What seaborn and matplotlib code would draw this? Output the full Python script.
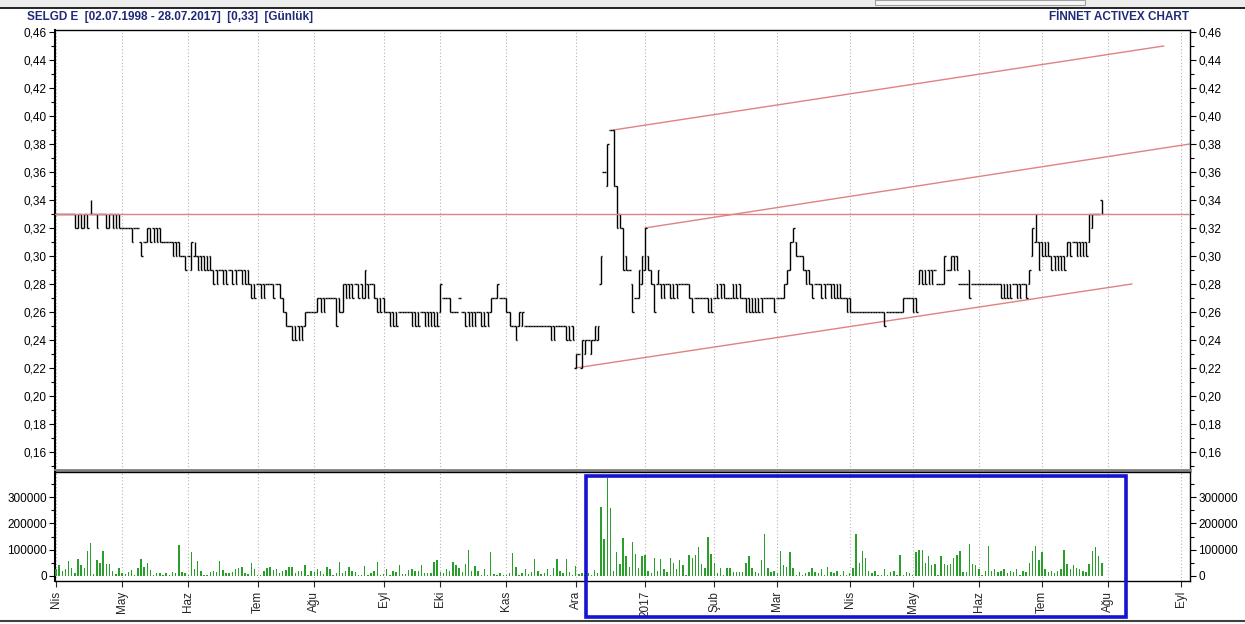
import numpy as np
import pandas as pd
import matplotlib
matplotlib.use("Agg")
import matplotlib.pyplot as plt
import seaborn as sns
from matplotlib.ticker import MultipleLocator, FuncFormatter
from matplotlib.patches import Rectangle

# ---------------- data (prices in kuruş, volume in thousands) ----------------
START, END = "2016-04-01", "2017-07-28"
HOLIDAYS = ["2016-05-19", "2016-07-05", "2016-07-06", "2016-07-07", "2016-08-30",
            "2016-09-12", "2016-09-13", "2016-09-14", "2016-09-15",
            "2017-05-01", "2017-05-19", "2017-06-26", "2017-06-27"]
MONTH_NAMES = ["Oca", "Şub", "Mar", "Nis", "May", "Haz", "Tem", "Ağu", "Eyl", "Eki", "Kas", "Ara"]

LOW = [
    33,33,33,33,33,33,32,32,32,32,32,33,33,32,33,33,32,32,32,32,32,
    32,32,32,31,32,32,30,31,31,31,31,31,31,31,31,31,30,30,30,30,29,
    30,29,30,29,29,29,29,29,28,28,29,28,28,29,28,28,29,28,28,28,27,27,
    28,27,27,28,28,27,28,27,26,25,25,24,24,24,24,25,26,26,
    26,26,26,26,27,27,27,25,26,26,27,27,27,28,27,27,27,27,28,27,26,26,
    26,26,25,25,25,26,26,26,26,25,25,25,26,25,25,25,25,25,
    26,27,27,26,26,26,27,26,25,25,25,25,26,25,25,25,26,27,27,27,27,
    26,25,25,24,25,25,25,25,25,25,25,25,25,25,24,24,25,25,25,24,24,24,
    22,23,22,23,24,23,24,24,28,36,35,39,35,32,32,29,29,29,26,27,27,28,
    29,29,28,26,28,27,27,28,27,27,27,28,28,28,27,26,27,27,27,27,26,26,
    27,27,27,27,27,27,27,27,27,27,26,26,26,26,26,26,27,27,27,26,
    27,27,27,28,29,31,30,30,29,28,28,27,28,28,27,27,28,27,27,27,27,27,26,
    26,26,26,26,26,26,26,26,26,26,26,25,26,26,26,26,26,26,27,27,
    26,26,28,28,28,28,28,29,28,28,28,29,29,29,29,28,28,28,27,28,28,
    28,28,28,28,28,28,28,27,27,27,27,28,27,27,28,27,28,30,31,29,
    30,30,30,29,29,29,29,29,30,30,31,30,30,30,30,31,32,33,33,33,
]
HIGH = [
    33,33,33,33,33,33,33,33,33,33,33,34,33,33,33,33,33,33,33,33,33,
    32,32,32,32,32,32,31,31,32,32,32,32,32,31,31,31,31,31,31,30,30,
    30,31,31,30,30,30,30,30,29,29,29,29,29,29,29,29,29,29,29,29,28,28,
    28,28,28,28,28,28,28,28,27,26,25,25,25,25,25,26,26,26,
    26,27,27,27,27,27,27,27,27,28,28,28,28,28,28,28,29,28,28,28,27,27,
    27,26,26,26,26,26,26,26,26,26,26,26,26,26,26,26,26,26,
    28,27,27,27,26,26,27,26,26,26,26,26,26,26,26,26,27,27,28,27,27,
    27,26,25,25,26,26,25,25,25,25,25,25,25,25,25,25,25,25,25,25,25,25,
    23,23,24,24,24,24,25,25,30,36,38,39,39,35,33,32,30,29,28,27,29,30,
    32,30,29,28,29,28,28,28,28,28,28,28,28,28,28,27,27,27,27,27,27,27,
    27,28,28,28,27,27,28,28,28,27,27,27,27,27,27,27,27,27,27,27,
    27,27,28,29,31,32,31,30,30,29,29,28,28,28,28,28,28,28,28,28,28,27,27,
    27,26,26,26,26,26,26,26,26,26,26,26,26,26,26,26,26,27,27,27,
    27,27,29,29,29,29,29,29,28,28,30,29,30,30,30,28,28,28,29,28,28,
    28,28,28,28,28,28,28,28,28,28,28,28,28,28,28,28,29,32,33,31,
    31,31,31,30,30,30,30,30,31,31,31,31,31,31,31,33,33,33,33,34,
]
OPEN = [
    33,33,33,33,33,33,33,32,33,32,33,33,33,33,33,33,33,32,33,33,33,
    32,32,32,32,32,32,31,31,31,32,32,32,32,31,31,31,31,31,31,30,30,
    30,29,30,30,30,30,30,30,29,29,29,29,29,29,29,29,29,29,29,29,28,28,
    28,28,28,28,28,28,28,28,27,26,25,25,25,25,25,25,26,26,
    26,26,27,27,27,27,27,27,27,26,28,28,28,28,28,28,27,28,28,28,27,27,
    27,26,26,26,26,26,26,26,26,26,26,26,26,26,26,26,26,26,
    26,27,27,27,26,26,27,26,26,26,26,26,26,26,26,26,26,27,27,27,27,
    27,26,25,25,25,25,25,25,25,25,25,25,25,25,25,25,25,25,25,25,25,25,
    22,23,22,23,24,23,24,24,28,36,35,39,39,35,33,32,30,29,28,27,27,28,
    29,30,29,28,28,28,28,28,28,28,28,28,28,28,28,27,27,27,27,27,27,27,
    27,28,28,28,27,27,28,28,28,27,27,27,27,27,27,27,27,27,27,27,
    27,27,27,28,29,31,31,30,30,29,29,28,28,28,28,28,28,28,28,28,28,27,27,
    27,26,26,26,26,26,26,26,26,26,26,26,26,26,26,26,26,26,27,27,
    27,27,28,29,29,29,29,29,28,28,28,29,29,30,30,28,28,28,29,28,28,
    28,28,28,28,28,28,28,28,28,28,28,28,28,28,28,28,28,30,31,31,
    31,31,31,30,30,30,30,30,30,31,31,31,31,31,31,31,32,33,33,34,
]
CLOSE = [
    33,33,33,33,33,33,32,33,32,33,32,33,33,32,33,33,32,33,32,32,32,
    32,32,32,31,32,32,30,31,32,31,31,31,31,31,31,31,30,30,30,30,29,
    30,31,30,29,29,29,29,29,28,28,29,28,28,29,28,28,29,28,28,28,27,27,
    28,27,27,28,28,27,28,27,26,25,25,24,24,24,24,26,26,26,
    26,27,26,26,27,27,27,25,26,28,27,27,27,28,27,27,29,27,28,27,26,26,
    26,26,25,25,25,26,26,26,26,25,25,25,26,25,25,25,25,25,
    28,27,27,26,26,26,27,26,25,25,25,25,26,25,25,25,27,27,28,27,27,
    26,25,25,24,26,26,25,25,25,25,25,25,25,25,24,24,25,25,25,24,24,24,
    23,23,24,24,24,24,25,25,30,36,38,39,35,32,32,29,29,29,26,27,29,30,
    32,29,28,26,29,27,27,28,27,27,27,28,28,28,27,26,27,27,27,27,26,26,
    27,27,27,27,27,27,27,27,27,27,26,26,26,26,26,26,27,27,27,26,
    27,27,28,29,31,32,30,30,29,28,28,27,28,28,27,27,28,27,27,27,27,27,26,
    26,26,26,26,26,26,26,26,26,26,26,25,26,26,26,26,26,27,27,27,
    26,26,29,28,28,28,28,29,28,28,30,29,30,29,29,28,28,28,27,28,28,
    28,28,28,28,28,28,28,27,27,27,27,28,27,27,28,27,29,32,33,29,
    30,30,30,29,29,29,29,29,31,30,31,30,30,30,30,33,33,33,33,33,
]
VOLUME_K = [
    28,41,19,26,56,29,10,64,41,32,95,126,6,60,49,95,47,45,18,6,29,
    10,8,14,22,4,32,64,36,48,22,3,10,10,4,12,4,14,12,118,14,10,
    5,90,25,56,18,3,3,14,17,15,56,22,12,12,14,28,30,36,10,6,48,28,
    5,3,18,30,36,24,27,12,18,24,36,36,10,20,18,40,5,20,
    15,25,20,8,33,25,5,10,55,12,20,33,20,15,5,5,38,5,10,20,55,3,
    7,28,5,20,15,42,8,8,22,28,20,17,40,12,10,10,55,60,
    15,10,25,20,55,40,30,15,45,98,20,37,20,5,25,3,90,8,5,10,3,
    3,10,87,35,5,12,25,8,15,65,20,8,12,25,5,30,65,20,10,65,15,3,
    38,8,10,5,12,5,22,10,262,140,375,260,20,90,45,145,75,35,130,85,30,75,
    80,20,10,70,20,65,25,15,70,50,25,60,40,5,80,70,80,110,45,30,150,85,
    50,10,30,5,30,30,15,15,15,15,50,75,30,15,10,60,160,30,15,20,
    10,95,40,35,90,30,5,15,5,10,15,30,15,10,25,5,35,15,10,20,5,20,5,
    10,30,160,50,95,70,20,10,20,5,5,25,5,15,20,5,80,5,15,10,
    5,90,100,100,50,75,40,45,5,75,45,40,45,70,80,95,15,15,120,45,40,
    25,5,20,115,20,25,15,20,25,10,20,15,25,5,20,15,50,95,115,60,
    90,25,15,20,10,20,25,100,45,25,40,30,25,20,15,45,95,110,75,50,
]

REF_LEVEL = 0.33
TREND_X0 = [177, 187, 165]
TREND_Y0 = [0.39, 0.32, 0.22]
TREND_X1 = [351.7, 360.0, 341.6]
TREND_Y1 = [0.45, 0.38, 0.28]
BOX_X = (168.3, 339.7)
BOX_Y = (-158000, 380000)

TITLE_LEFT = "SELGD E  [02.07.1998 - 28.07.2017]  [0,33]  [Günlük]"
TITLE_RIGHT = "FİNNET ACTIVEX CHART"

# ---------------- calendar ----------------
days = pd.bdate_range(START, END)
days = days[~days.isin(pd.to_datetime(HOLIDAYS))]
n = len(days)
for name, arr in [("LOW", LOW), ("HIGH", HIGH), ("OPEN", OPEN), ("CLOSE", CLOSE), ("VOLUME_K", VOLUME_K)]:
    assert len(arr) == n, f"{name} has {len(arr)} values, expected {n}"

future = pd.bdate_range("2017-07-31", "2017-09-05")
all_days = days.append(future)
pos = np.arange(len(all_days))
month_key = all_days.year * 12 + all_days.month
first = np.r_[True, month_key[1:] != month_key[:-1]]
tick_pos = pos[first]
tick_lab = [("2017" if d.month == 1 else MONTH_NAMES[d.month - 1]) for d in all_days[first]]

x = np.arange(n)
low = np.array(LOW) / 100
high = np.array(HIGH) / 100
opn = np.array(OPEN) / 100
cls = np.array(CLOSE) / 100
df_vol = pd.DataFrame({"x": x, "vol": np.array(VOLUME_K) * 1000})

# ---------------- figure ----------------
sns.set_style("white")
plt.rcParams["font.family"] = ["Liberation Sans", "DejaVu Sans"]

W, H = 1245, 624
fig = plt.figure(figsize=(W / 100, H / 100), dpi=100)
fig.patch.set_facecolor("white")


def frame(x0, y0, x1, y1):
    return [x0 / W, 1 - y1 / H, (x1 - x0) / W, (y1 - y0) / H]


# window chrome
fig.add_artist(Rectangle((0, 1 - 8 / H), 1, 8 / H, transform=fig.transFigure,
                         facecolor="#EDEDED", edgecolor="none"))
fig.add_artist(Rectangle((875 / W, 1 - 5 / H), 210 / W, 5 / H, transform=fig.transFigure,
                         facecolor="#F7F7F7", edgecolor="#A0A0A0", lw=0.8))
fig.add_artist(plt.Line2D([0, 1], [1 - 8 / H, 1 - 8 / H], transform=fig.transFigure,
                          color="black", lw=1.2))
fig.add_artist(plt.Line2D([0, 1], [1 - 621 / H, 1 - 621 / H], transform=fig.transFigure,
                          color="#404040", lw=1.5))

navy = "#1F2A78"
fig.text(27 / W, 1 - 17 / H, TITLE_LEFT, color=navy, fontsize=8.5, fontweight="bold",
         ha="left", va="center")
fig.text(1189 / W, 1 - 17 / H, TITLE_RIGHT, color=navy, fontsize=8.5, fontweight="bold",
         ha="right", va="center")

axp = fig.add_axes(frame(55, 30, 1190, 470))
axv = fig.add_axes(frame(55, 472, 1190, 581), sharex=axp)

# grid (monthly dotted verticals)
for ax in (axp, axv):
    for tp in tick_pos:
        ax.axvline(tp, color="#B4B4B4", lw=0.8, ls=(0, (1, 2)), zorder=0)

# OHLC bars
axp.vlines(x, low, high, color="black", lw=1.0, zorder=3)
axp.hlines(opn, x - 0.5, x, color="black", lw=1.0, zorder=3)
axp.hlines(cls, x, x + 0.5, color="black", lw=1.0, zorder=3)

# reference level (drawn over the bars) & channel lines
red = "#DE8282"
axp.axhline(REF_LEVEL, color=red, lw=1.0, zorder=4)
for x0, y0, x1, y1 in zip(TREND_X0, TREND_Y0, TREND_X1, TREND_Y1):
    axp.plot([x0, x1], [y0, y1], color=red, lw=1.0, zorder=2)

# volume bars
sns.barplot(data=df_vol, x="x", y="vol", native_scale=True, width=0.45,
            color="#2A9E2A", saturation=1, errorbar=None, linewidth=0, ax=axv, zorder=3)
axv.set_xlabel("")
axv.set_ylabel("")

# limits
axp.set_xlim(-0.3, 360.0)
axp.set_ylim(0.1471, 0.4614)
axv.set_ylim(-19200, 396000)

# price axis ticks
comma = FuncFormatter(lambda v, p: f"{v:.2f}".replace(".", ","))
axp.yaxis.set_major_locator(MultipleLocator(0.02))
axp.yaxis.set_minor_locator(MultipleLocator(0.01))
axp.yaxis.set_major_formatter(comma)
axp.tick_params(axis="y", which="both", left=True, right=True, labelleft=True, labelright=True,
                direction="out", labelsize=8.5, colors="black", pad=2)
axp.tick_params(axis="y", which="major", length=4, width=0.8)
axp.tick_params(axis="y", which="minor", length=3, width=0.8)
axp.tick_params(axis="x", which="both", bottom=False, labelbottom=False)

# volume axis ticks
axv.yaxis.set_major_locator(MultipleLocator(100000))
axv.yaxis.set_minor_locator(MultipleLocator(50000))
axv.yaxis.set_major_formatter(FuncFormatter(lambda v, p: f"{int(round(v))}"))
axv.tick_params(axis="y", which="both", left=True, right=True, labelleft=True, labelright=True,
                direction="out", labelsize=8.5, colors="black", pad=2)
axv.tick_params(axis="y", which="major", length=4, width=0.8)
axv.tick_params(axis="y", which="minor", length=3, width=0.8)
axv.set_xticks(tick_pos)
axv.set_xticklabels(tick_lab, rotation=90, fontsize=8.5)
axv.tick_params(axis="x", which="major", bottom=True, direction="out", length=4, width=0.8, pad=3)
axv.tick_params(axis="x", which="minor", bottom=False)
axp.set_xlim(-0.3, 360.0)

for ax in (axp, axv):
    for s in ax.spines.values():
        s.set_color("black")
        s.set_linewidth(1.0)
axp.spines["bottom"].set_color("#808080")
axp.spines["bottom"].set_linewidth(2.0)
axp.spines["left"].set_linewidth(1.5)
axv.spines["left"].set_linewidth(1.5)

# highlight box
axv.add_patch(Rectangle((BOX_X[0], BOX_Y[0]), BOX_X[1] - BOX_X[0], BOX_Y[1] - BOX_Y[0],
                        fill=False, edgecolor="#1414D2", lw=2.6, clip_on=False, zorder=10))

fig.savefig("out.png", dpi=100)
